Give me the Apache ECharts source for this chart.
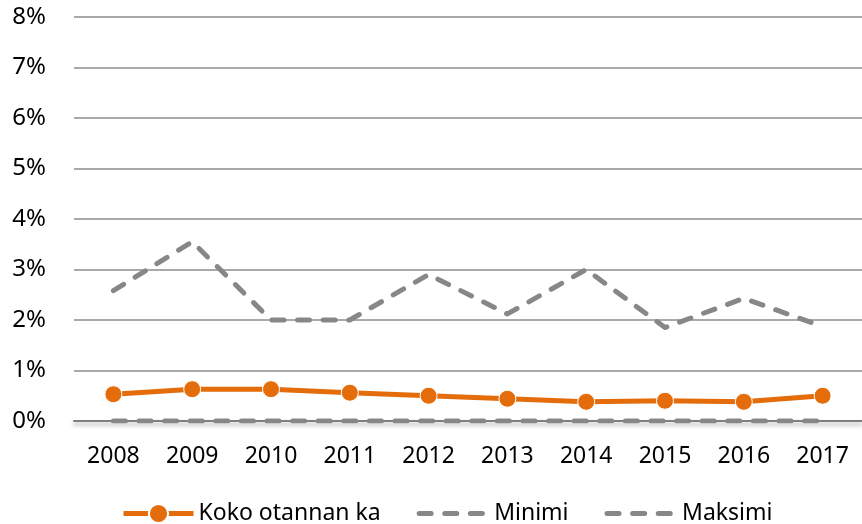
<!DOCTYPE html>
<html><head><meta charset="utf-8">
<script src="https://cdn.jsdelivr.net/npm/echarts@6/dist/echarts.min.js"></script>
<style>html,body{margin:0;padding:0;background:#fff}#c{width:862px;height:524px}</style>
</head><body><div id="c"></div>
<script>
const years = ['2008','2009','2010','2011','2012','2013','2014','2015','2016','2017'];
const koko = [0.53, 0.63, 0.63, 0.56, 0.50, 0.44, 0.38, 0.40, 0.38, 0.50];
const minimi = [0, 0, 0, 0, 0, 0, 0, 0, 0, 0];
const maksimi = [2.58, 3.55, 2.0, 2.0, 2.9, 2.12, 3.0, 1.85, 2.43, 1.87];
const seriesNames = ['Koko otannan ka', 'Minimi', 'Maksimi'];

const font = 'Noto Sans';
const chart = echarts.init(document.getElementById('c'));
const dashStyle = { color: '#878787', width: 5, type: [12, 13.6], cap: 'round', join: 'round' };
chart.setOption({
  animation: false,
  grid: { left: 74, right: 0, top: 17, bottom: 103 },
  legend: {
    left: 116, top: 497, itemWidth: 70, itemHeight: 24, itemGap: 36,
    textStyle: { fontFamily: font, fontSize: 23, color: '#000' },
    data: [
      { name: seriesNames[0], lineStyle: { color: '#E46C0A', width: 5 } },
      { name: seriesNames[1], lineStyle: dashStyle, itemStyle: { opacity: 0 } },
      { name: seriesNames[2], lineStyle: dashStyle, itemStyle: { opacity: 0 } }
    ]
  },
  xAxis: {
    type: 'category', data: years, boundaryGap: true,
    axisLine: { lineStyle: { color: '#7f7f7f', width: 2, shadowColor: 'rgba(0,0,0,0.35)', shadowBlur: 4, shadowOffsetY: 3 } },
    axisTick: { show: false },
    axisLabel: { fontFamily: font, fontSize: 23, color: '#000', margin: 24 }
  },
  yAxis: {
    type: 'value', min: 0, max: 8, interval: 1,
    axisLine: { show: false }, axisTick: { show: false },
    splitLine: { lineStyle: { color: '#8c8c8c', width: 1.5 } },
    axisLabel: { fontFamily: font, fontSize: 24, color: '#000', margin: 28, formatter: v => v + '%' }
  },
  series: [
    { name: seriesNames[0], type: 'line', data: koko, symbol: 'circle', symbolSize: 17,
      itemStyle: { color: '#E46C0A', borderColor: '#fff', borderWidth: 1 },
      lineStyle: { color: '#E46C0A', width: 5 }, z: 5 },
    { name: seriesNames[1], type: 'line', data: minimi, showSymbol: false, symbol: 'none',
      itemStyle: { color: '#878787' }, lineStyle: dashStyle, z: 4 },
    { name: seriesNames[2], type: 'line', data: maksimi, showSymbol: false, symbol: 'none',
      itemStyle: { color: '#878787' }, lineStyle: dashStyle, z: 3 }
  ]
});
</script></body></html>
